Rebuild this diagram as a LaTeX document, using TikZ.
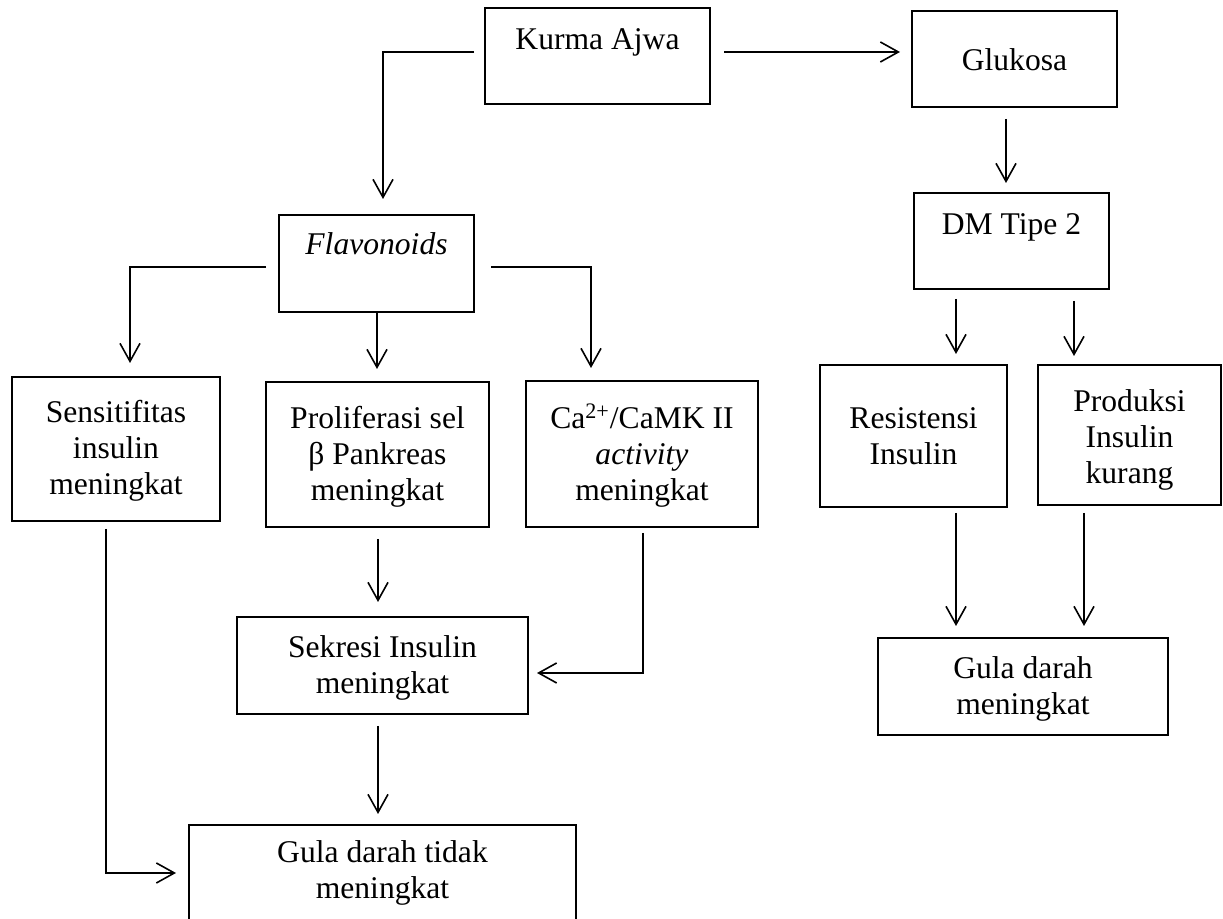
\documentclass[tikz,border=0pt]{standalone}
\usepackage{fontspec}
\setmainfont{Liberation Serif}
\usetikzlibrary{arrows.meta,calc}
\newcommand{\mlines}[1]{\begin{tabular}[t]{@{}c@{}}#1\end{tabular}}
\begin{document}
\begin{tikzpicture}[x=0.5pt,y=-0.5pt,
  box/.style={draw, line width=1.3pt, inner sep=0pt, outer sep=0pt},
  txt/.style={font=\fontsize{15.8}{17.8}\selectfont, inner sep=0pt, outer sep=0pt, anchor=base},
  arr/.style={line width=0.8pt, -{Straight Barb[length=9pt,width=10pt]}}]
\fill[white] (0,0) rectangle (1223,919);
\useasboundingbox (0,0) rectangle (1223,919);

% boxes
\node[box, minimum width=112.5pt, minimum height=48pt] (kurma) at (597.5,56) {};
\node[box, minimum width=102.5pt, minimum height=48pt] (gluk) at (1014.5,59) {};
\node[box, minimum width=97.5pt, minimum height=48.5pt] (flav) at (376.5,263.5) {};
\node[box, minimum width=97.5pt, minimum height=48pt] (dm) at (1011.5,241) {};
\node[box, minimum width=104pt, minimum height=72pt] (sens) at (116,449) {};
\node[box, minimum width=111.5pt, minimum height=72.5pt] (prol) at (377.5,454.5) {};
\node[box, minimum width=116pt, minimum height=73pt] (ca) at (642,454) {};
\node[box, minimum width=93.5pt, minimum height=71pt] (resi) at (913.5,436) {};
\node[box, minimum width=91.5pt, minimum height=70pt] (prod) at (1129.5,435) {};
\node[box, minimum width=145.5pt, minimum height=48.5pt] (sekr) at (382.5,665.5) {};
\node[box, minimum width=193.5pt, minimum height=50pt] (gulaT) at (382.5,875) {};
\node[box, minimum width=145pt, minimum height=48.5pt] (gulaM) at (1023,686.5) {};

% texts
\node[txt] (tkurma) at (597.5,50) {Kurma Ajwa};
\node[txt] (tgluk) at (1014.5,71) {Glukosa};
\node[txt] (tflav) at (376.5,255) {\textit{Flavonoids}};
\node[txt] (tdm) at (1011.5,235) {DM Tipe 2};
\node[txt] (tsens) at (116,423) {\mlines{Sensitifitas\\insulin\\meningkat}};
\node[txt] (tprol) at (377.5,429) {\mlines{Proliferasi sel\\β Pankreas\\meningkat}};
\node[txt] (tca) at (642,429) {\mlines{Ca\textsuperscript{2+}/CaMK II\\\textit{activity}\\meningkat}};
\node[txt] (tresi) at (913.5,429) {\mlines{Resistensi\\Insulin}};
\node[txt] (tprod) at (1129.5,412) {\mlines{Produksi\\Insulin\\kurang}};
\node[txt] (tsekr) at (382.5,658) {\mlines{Sekresi Insulin\\meningkat}};
\node[txt] (tgulaT) at (382.5,863) {\mlines{Gula darah tidak\\meningkat}};
\node[txt] (tgulaM) at (1023,679) {\mlines{Gula darah\\meningkat}};

% connectors
\draw[arr] ($(kurma.east)+(14,-4)$) -- ($(gluk.west)+(-12,-7)$);
\draw[arr] ($(kurma.west)+(-11,-4)$) -| ($(flav.north)+(6.5,-16)$);
\draw[arr] ($(gluk.south)+(-8.5,12)$) -- ($(dm.north)+(-5.5,-10)$);
\draw[arr] ($(flav.west)+(-13,3.5)$) -| ($(sens.north)+(14,-14)$);
\draw[arr] ($(flav.south)+(0.5,1)$) -- ($(prol.north)+(-0.5,-13)$);
\draw[arr] ($(flav.east)+(17,3.5)$) -| ($(ca.north)+(-51,-13)$);
\draw[arr] ($(dm.south)+(-55.5,10)$) -- ($(resi.north)+(42.5,-11)$);
\draw[arr] ($(dm.south)+(62.5,12)$) -- ($(prod.north)+(-55.5,-9)$);
\draw[arr] ($(resi.south)+(42.5,6)$) -- ($(gulaM.north)+(-67,-12)$);
\draw[arr] ($(prod.south)+(-45.5,8)$) -- ($(gulaM.north)+(61,-12)$);
\draw[arr] ($(prol.south)+(0.5,12)$) -- ($(sekr.north)+(-4.5,-15)$);
\draw[arr] ($(ca.south)+(1,6)$) |- ($(sekr.east)+(9,7.5)$);
\draw[arr] ($(sekr.south)+(-4.5,12)$) -- ($(gulaT.north)+(-4.5,-11)$);
\draw[arr] ($(sens.south)+(-10,8)$) |- ($(gulaT.west)+(-13,-2)$);
\end{tikzpicture}
\end{document}
